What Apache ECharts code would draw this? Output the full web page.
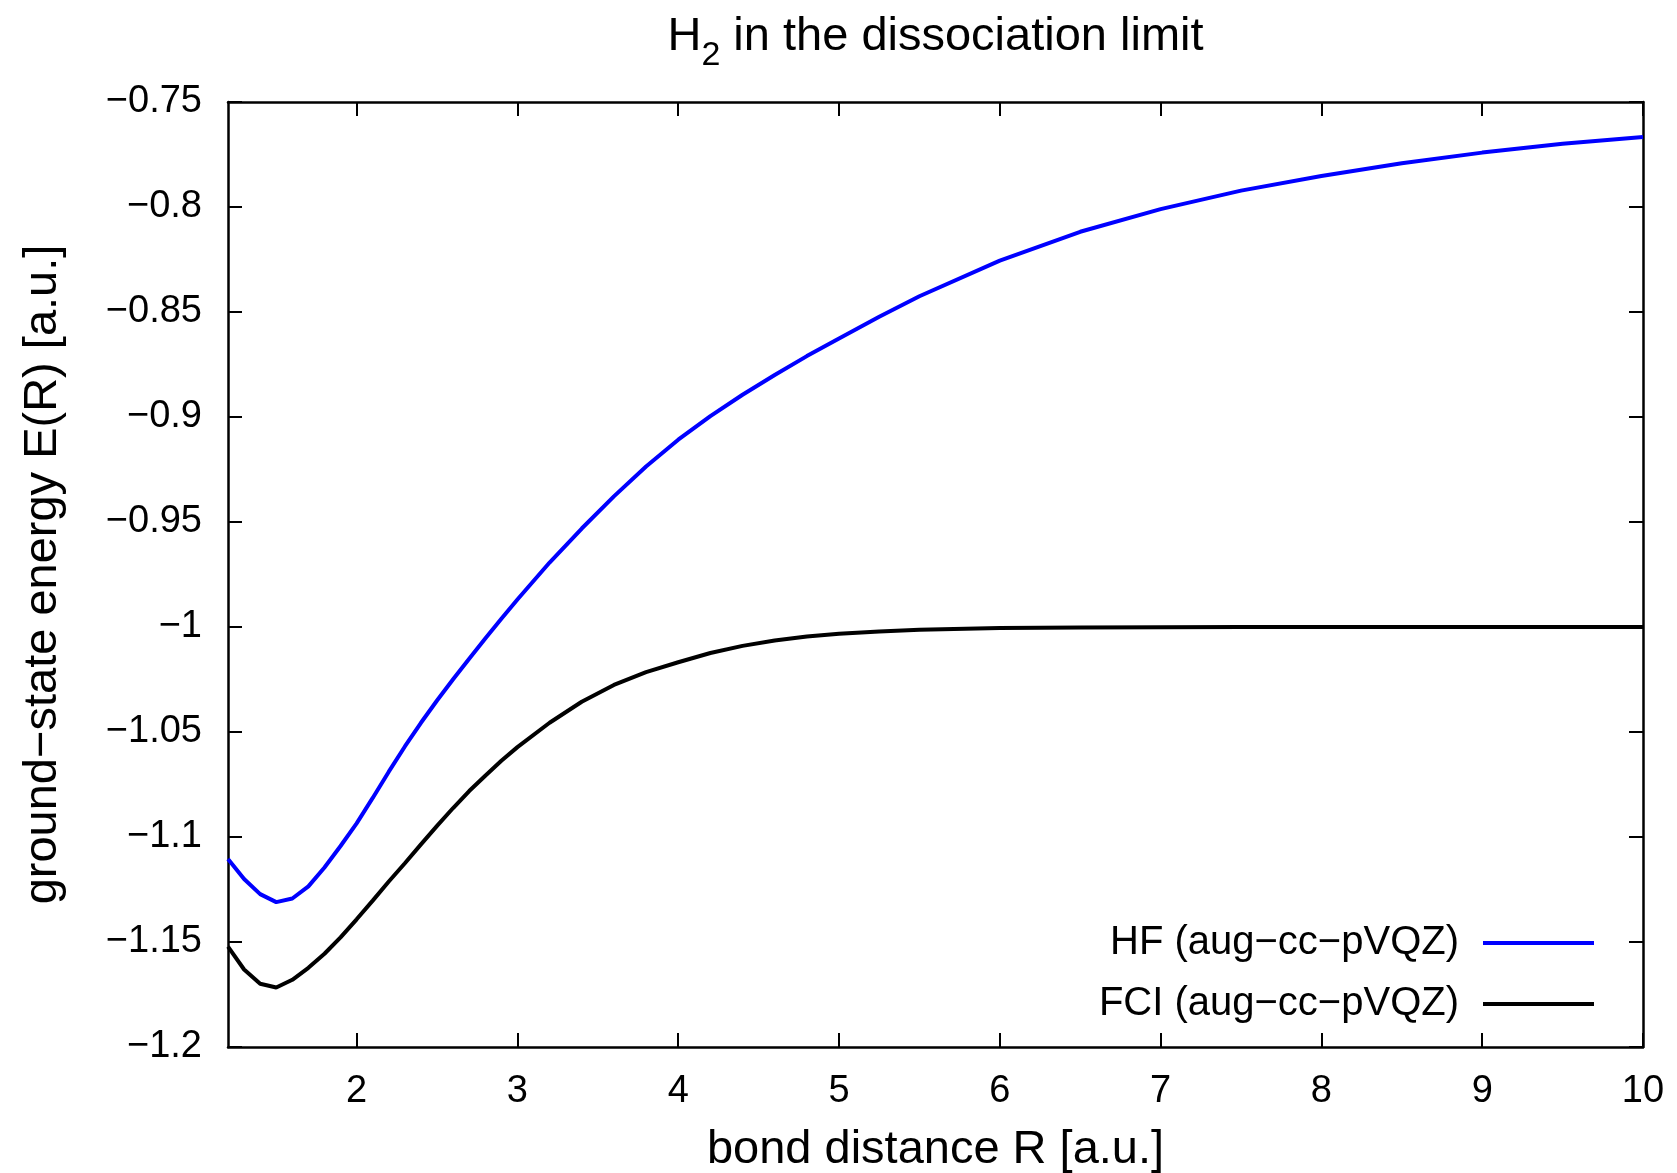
<!DOCTYPE html>
<html>
<head>
<meta charset="utf-8">
<script src="https://cdn.jsdelivr.net/npm/echarts@6/dist/echarts.min.js"></script>
<style>
html,body{margin:0;padding:0;background:#fff;}
#chart{width:1677px;height:1173px;}
</style>
</head>
<body>
<div id="chart"></div>
<script>
// bond distance R [a.u.]
var R = [1.2,1.3,1.4,1.5,1.6,1.7,1.8,1.9,2.0,2.1,2.2,2.3,2.4,2.5,2.6,2.7,2.8,2.9,3.0,
         3.2,3.4,3.6,3.8,4.0,4.2,4.4,4.6,4.8,5.0,5.25,5.5,6.0,6.5,7.0,7.5,8.0,8.5,9.0,9.5,10];
// HF (aug-cc-pVQZ)
var HF = [-1.1105,-1.1200,-1.1272,-1.1310,-1.1293,-1.1235,-1.1145,-1.1043,-1.0935,-1.0814,-1.0689,-1.0569,-1.0456,-1.0350,-1.0249,-1.0151,-1.0055,-0.9961,-0.9869,
          -0.9693,-0.9531,-0.9378,-0.9236,-0.9108,-0.8996,-0.8894,-0.8800,-0.8710,-0.8626,-0.8523,-0.8425,-0.8255,-0.8118,-0.8010,-0.7922,-0.7852,-0.7792,-0.7741,-0.7699,-0.7667];
// FCI (aug-cc-pVQZ)
var FCI = [-1.1522,-1.1631,-1.1699,-1.1717,-1.1680,-1.1623,-1.1556,-1.1478,-1.1392,-1.1303,-1.1212,-1.1125,-1.1035,-1.0947,-1.0862,-1.0781,-1.0708,-1.0637,-1.0572,
           -1.0456,-1.0356,-1.0276,-1.0215,-1.0168,-1.0124,-1.0090,-1.0064,-1.0045,-1.0032,-1.0021,-1.0013,-1.0005,-1.0002,-1.0001,-1.0000,-1.0000,-1.0000,-1.0000,-1.0000,-1.0000];
var xTicks = [2,3,4,5,6,7,8,9,10];
var seriesNames = ['HF (aug\u2212cc\u2212pVQZ)', 'FCI (aug\u2212cc\u2212pVQZ)'];

var FONT = 'Liberation Sans, Arial, Helvetica, sans-serif';
function pairs(xs, ys){ return xs.map(function(x,i){ return [x, ys[i]]; }); }
function yfmt(v){ return String(Math.round(v*100)/100).replace('-', '\u2212'); }

var chart = echarts.init(document.getElementById('chart'), null, {renderer:'canvas'});
var axisLine = {show:true, lineStyle:{color:'#000', width:2.5}};
var tick = {show:true, inside:true, length:14, lineStyle:{color:'#000', width:2}};
chart.setOption({
  backgroundColor:'#fff',
  animation:false,
  title:{
    text:'{a|H}{b|2}{a| in the dissociation limit}',
    left:935.5, top:14, textAlign:'center', padding:0,
    textStyle:{
      fontWeight:'normal',
      rich:{
        a:{fontFamily:FONT, fontSize:47, lineHeight:47, fontWeight:'normal', color:'#000'},
        b:{fontFamily:FONT, fontSize:34, lineHeight:47, fontWeight:'normal', color:'#000', padding:[36,0,0,0]}
      }
    }
  },
  grid:{left:228, right:34, top:102, bottom:126, containLabel:false, outerBoundsMode:'none'},
  legend:{
    orient:'vertical', right:78, top:918, align:'right',
    itemWidth:111, itemHeight:4, itemGap:21, icon:'rect',
    textStyle:{fontFamily:FONT, fontSize:40, lineHeight:40, color:'#000', padding:[0,19,0,0]},
    data:seriesNames
  },
  xAxis:[{
    type:'value', min:1.2, max:10, position:'bottom',
    name:'bond distance R [a.u.]', nameLocation:'middle', nameGap:80, nameMoveOverlap:false,
    nameTextStyle:{fontFamily:FONT, fontSize:47, lineHeight:47, color:'#000', verticalAlign:'top'},
    axisLine:axisLine,
    axisTick:Object.assign({customValues:xTicks}, tick),
    axisLabel:{customValues:xTicks, fontFamily:FONT, fontSize:38, color:'#000', margin:26},
    splitLine:{show:false}
  },{
    type:'value', min:1.2, max:10, position:'top',
    axisLine:axisLine,
    axisTick:Object.assign({customValues:xTicks}, tick),
    axisLabel:{show:false},
    splitLine:{show:false}
  }],
  yAxis:[{
    type:'value', min:-1.2, max:-0.75, interval:0.05, position:'left',
    name:'ground\u2212state energy E(R) [a.u.]', nameLocation:'middle', nameGap:161, nameMoveOverlap:false,
    nameTextStyle:{fontFamily:FONT, fontSize:47, color:'#000'},
    axisLine:axisLine, axisTick:tick,
    axisLabel:{formatter:yfmt, fontFamily:FONT, fontSize:38, color:'#000', margin:26},
    splitLine:{show:false}
  },{
    type:'value', min:-1.2, max:-0.75, interval:0.05, position:'right',
    axisLine:axisLine, axisTick:tick,
    axisLabel:{show:false},
    splitLine:{show:false}
  }],
  series:[{
    name:seriesNames[0], type:'line', xAxisIndex:0, yAxisIndex:0,
    data:pairs(R, HF), showSymbol:false, symbol:'none', smooth:false,
    lineStyle:{color:'#0000ff', width:4}, itemStyle:{color:'#0000ff'}
  },{
    name:seriesNames[1], type:'line', xAxisIndex:0, yAxisIndex:0,
    data:pairs(R, FCI), showSymbol:false, symbol:'none', smooth:false,
    lineStyle:{color:'#000000', width:4}, itemStyle:{color:'#000000'}
  }]
});
</script>
</body>
</html>
